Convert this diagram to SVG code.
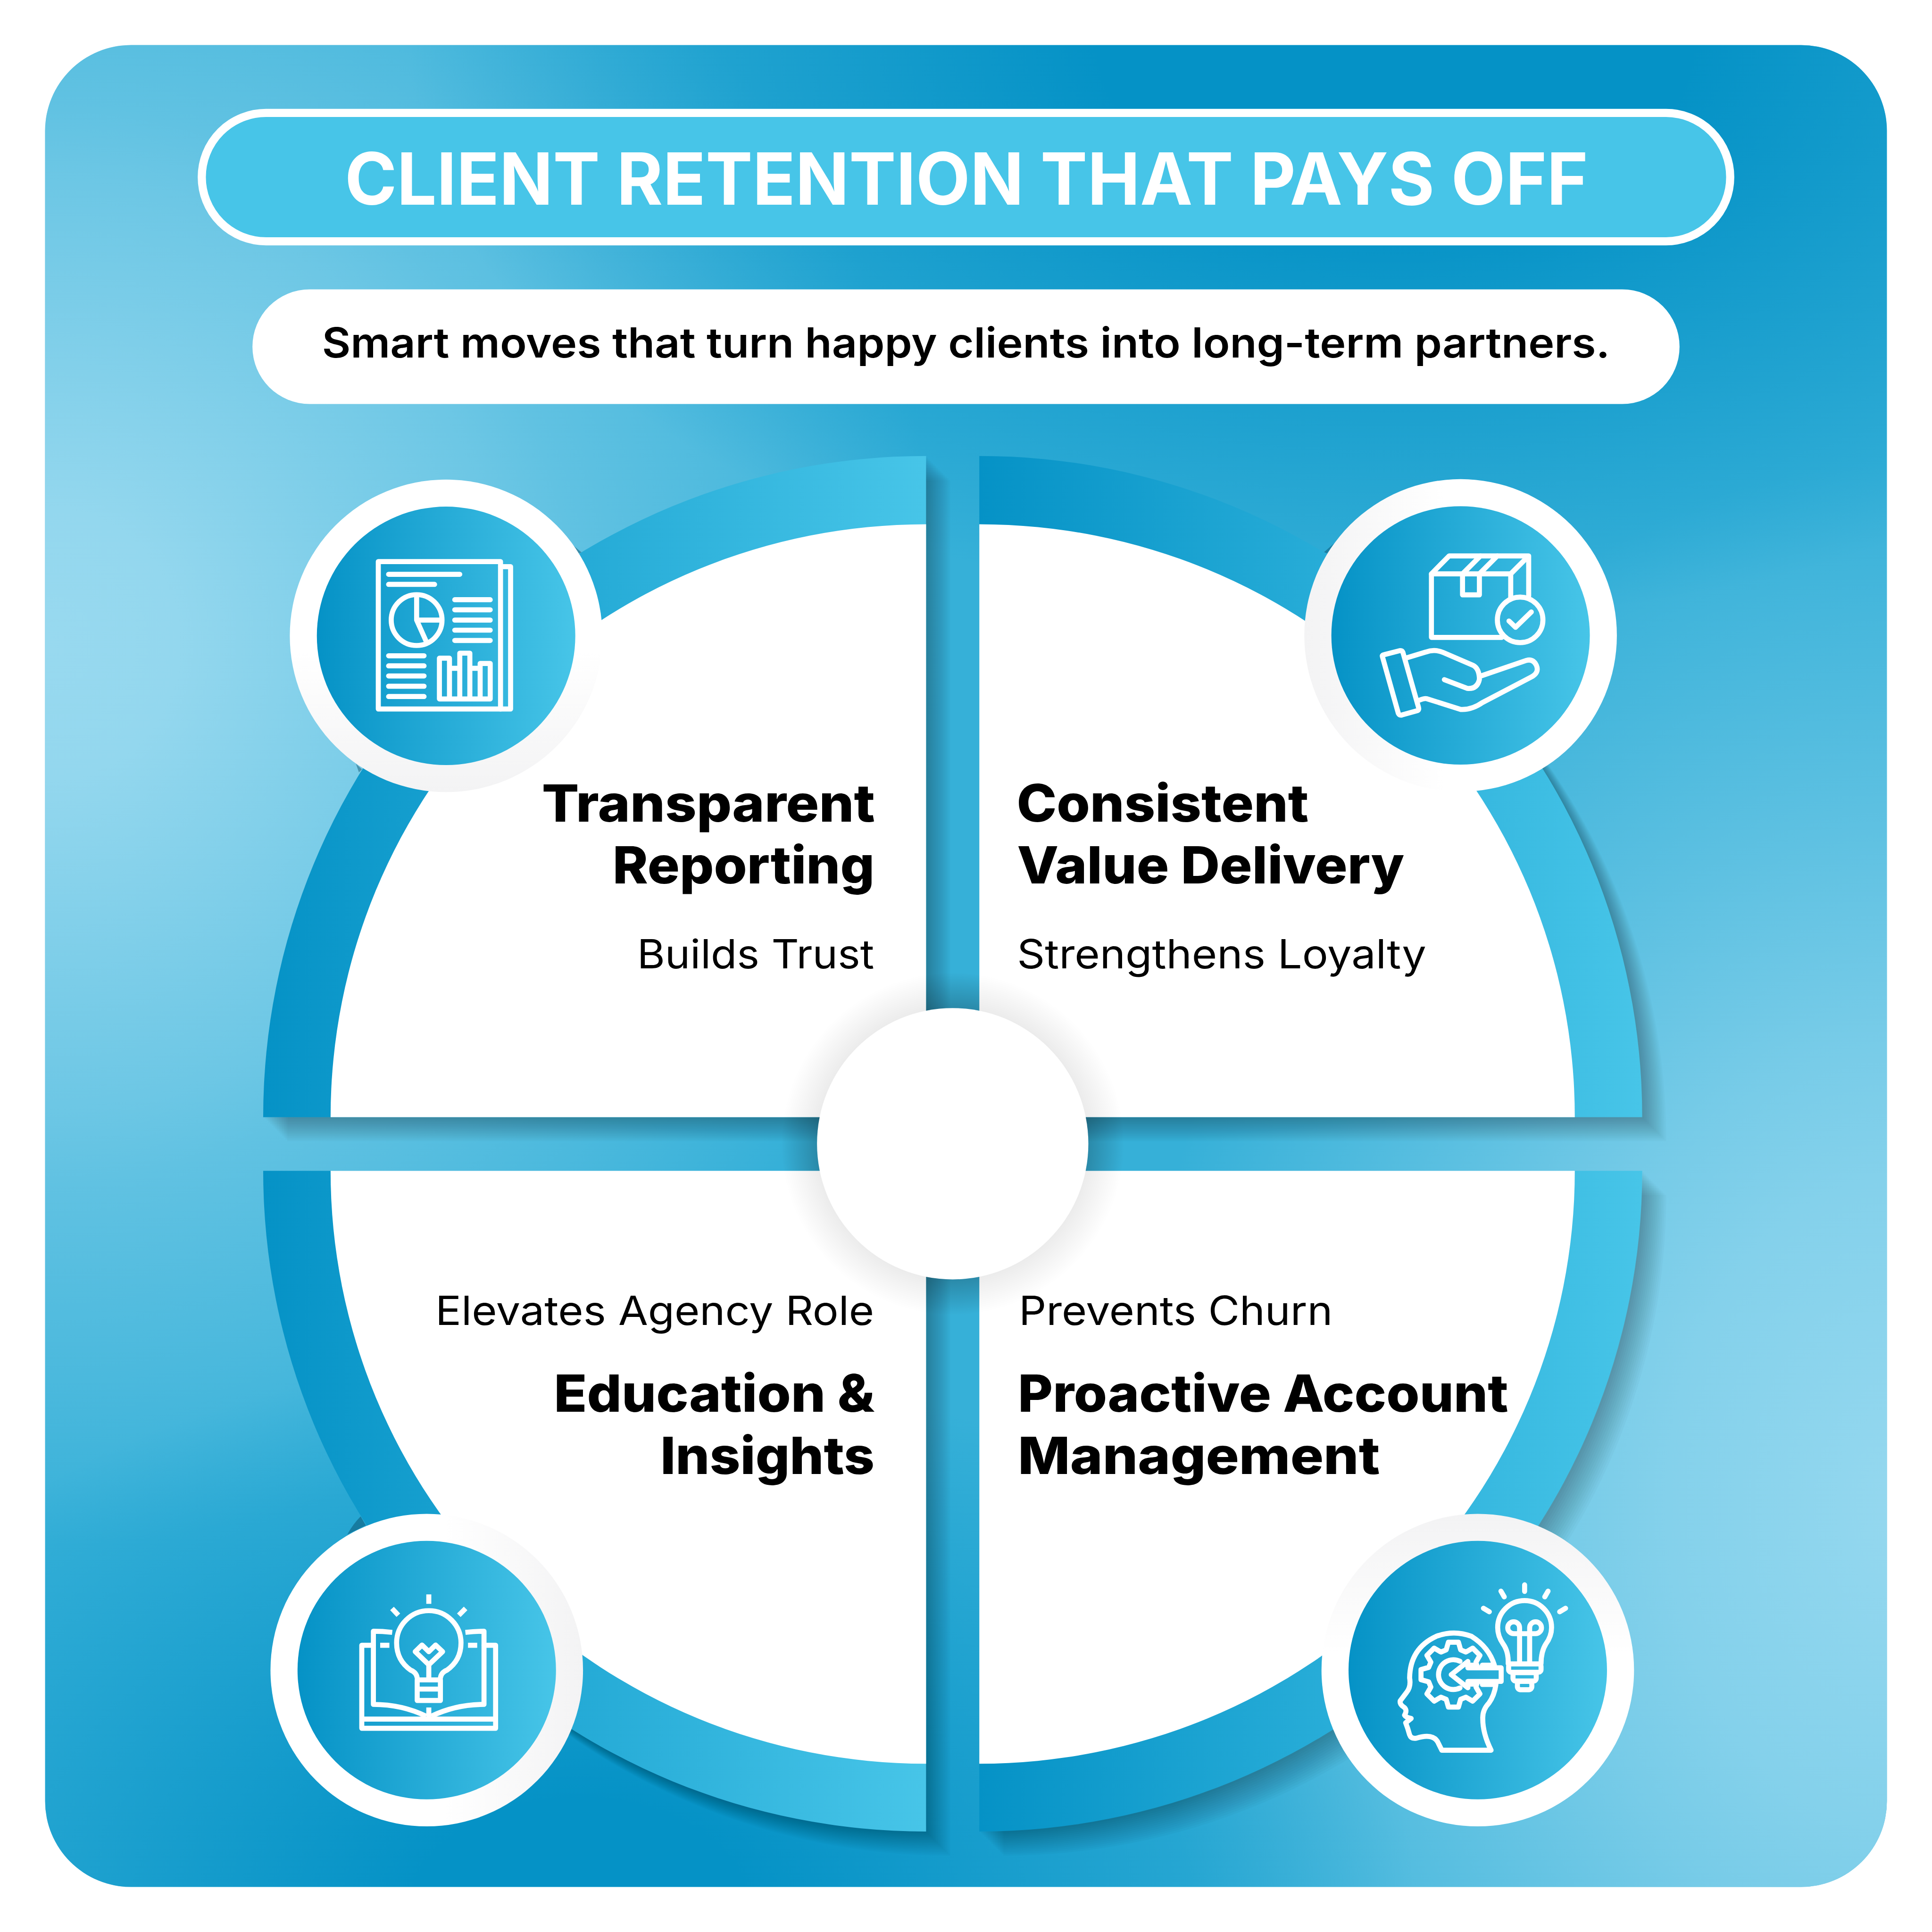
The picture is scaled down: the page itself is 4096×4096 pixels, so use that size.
<svg xmlns="http://www.w3.org/2000/svg" width="4096" height="4096" viewBox="0 0 4096 4096">
<style>
.ic{fill:none;stroke:#fff;stroke-width:23;stroke-linecap:round;stroke-linejoin:round}
.bt{stroke-linecap:butt}
.h{font-family:Inter,"Liberation Sans",sans-serif;font-weight:800;font-size:120px;fill:#000}
.s{font-family:Inter,"Liberation Sans",sans-serif;font-weight:400;font-size:93px;fill:#000}
</style>
<defs>
<linearGradient id="gH" x1="0" y1="0" x2="1" y2="0"><stop offset="0" stop-color="#0592c6"/><stop offset="1" stop-color="#47c5e8"/></linearGradient>
<linearGradient id="wB" x1="0" y1="0" x2="0" y2="1"><stop offset=".55" stop-color="#fff"/><stop offset="1" stop-color="#f3f3f4"/></linearGradient>
<linearGradient id="wT" x1="0" y1="1" x2="0" y2="0"><stop offset=".55" stop-color="#fff"/><stop offset="1" stop-color="#f3f3f4"/></linearGradient>
<linearGradient id="wL" x1="1" y1="0" x2="0" y2="0"><stop offset=".55" stop-color="#fff"/><stop offset="1" stop-color="#f3f3f4"/></linearGradient>
<linearGradient id="wR" x1="0" y1="0" x2="1" y2="0"><stop offset=".55" stop-color="#fff"/><stop offset="1" stop-color="#f3f3f4"/></linearGradient>
<radialGradient id="L1" gradientUnits="userSpaceOnUse" cx="100" cy="1500" r="2100"><stop offset="0" stop-color="#98d9ef"/><stop offset=".15" stop-color="#98d9ef" stop-opacity=".95"/><stop offset=".52" stop-color="#98d9ef" stop-opacity=".55"/><stop offset=".6" stop-color="#98d9ef" stop-opacity=".43"/><stop offset=".83" stop-color="#98d9ef" stop-opacity=".2"/><stop offset="1" stop-color="#98d9ef" stop-opacity="0"/></radialGradient>
<radialGradient id="L2" gradientUnits="userSpaceOnUse" cx="0" cy="0" r="1" gradientTransform="translate(4450 3500) scale(1900 2550)"><stop offset="0" stop-color="#95d8ef"/><stop offset=".3" stop-color="#95d8ef" stop-opacity=".82"/><stop offset=".43" stop-color="#95d8ef" stop-opacity=".68"/><stop offset=".62" stop-color="#95d8ef" stop-opacity=".42"/><stop offset=".95" stop-color="#95d8ef" stop-opacity="0"/></radialGradient>
<radialGradient id="D1" gradientUnits="userSpaceOnUse" cx="0" cy="0" r="1" gradientTransform="translate(3250 100) scale(2300 1350)"><stop offset=".3" stop-color="#0592c6"/><stop offset="1" stop-color="#0592c6" stop-opacity="0"/></radialGradient>
<radialGradient id="D2" gradientUnits="userSpaceOnUse" cx="0" cy="0" r="1" gradientTransform="translate(1350 4450) scale(1950 1300)"><stop offset=".2" stop-color="#0592c6"/><stop offset="1" stop-color="#0592c6" stop-opacity="0"/></radialGradient>
<radialGradient id="cS" gradientUnits="userSpaceOnUse" cx="2219" cy="2664" r="400"><stop offset=".78" stop-color="#000" stop-opacity=".08"/><stop offset="1" stop-color="#000" stop-opacity="0"/></radialGradient>
<radialGradient id="cS2" gradientUnits="userSpaceOnUse" cx="2219" cy="2664" r="400"><stop offset=".78" stop-color="#000" stop-opacity=".16"/><stop offset="1" stop-color="#000" stop-opacity="0"/></radialGradient>
<clipPath id="cross"><rect x="2157" y="2200" width="124" height="928"/><rect x="1755" y="2602" width="928" height="125"/></clipPath>
<clipPath id="panel"><rect x="105" y="105" width="4290" height="4290" rx="200"/></clipPath>
<g id="qAll">
<path d="M2157,2602H613A1544,1540 0 0 1 2157,1062Z"/>
<path d="M2281,2602H3825A1544,1540 0 0 0 2281,1062Z"/>
<path d="M2157,2727H613A1544,1539 0 0 0 2157,4266Z"/>
<path d="M2281,2727H3825A1544,1539 0 0 1 2281,4266Z"/>
</g>
</defs>
<rect width="4096" height="4096" fill="#fff"/>
<g transform="scale(.910222)">
<g id="background">
<rect x="105" y="105" width="4290" height="4290" rx="200" fill="#36b0d8"/>
<g clip-path="url(#panel)">
<rect x="105" y="105" width="4290" height="4290" fill="url(#L1)"/>
<rect x="105" y="105" width="4290" height="4290" fill="url(#L2)"/>
<rect x="105" y="105" width="4290" height="4290" fill="url(#D1)"/>
<rect x="105" y="105" width="4290" height="4290" fill="url(#D2)"/>
</g>
</g>
<g id="title">
<rect x="470" y="263" width="3560" height="299" rx="149.5" fill="#47c5e8" stroke="#fff" stroke-width="19"/>
<text x="803" y="477" font-family="Inter,'Liberation Sans',sans-serif" font-weight="700" font-size="168" fill="#fff" textLength="2896" lengthAdjust="spacingAndGlyphs">CLIENT RETENTION THAT PAYS OFF</text>
</g>
<g id="subtitle">
<rect x="588" y="674" width="3324" height="267" rx="133.5" fill="#fff"/>
<text x="750" y="833" font-family="Inter,'Liberation Sans',sans-serif" font-weight="600" font-size="96" fill="#000" textLength="3000" lengthAdjust="spacingAndGlyphs">Smart moves that turn happy clients into long-term partners.</text>
</g>
<g id="shadows" fill="#000" fill-opacity=".018">
<use href="#qAll" transform="translate(4 4)"/><use href="#qAll" transform="translate(8 8)"/><use href="#qAll" transform="translate(12 12)"/><use href="#qAll" transform="translate(16 16)"/><use href="#qAll" transform="translate(20 20)"/><use href="#qAll" transform="translate(24 24)"/><use href="#qAll" transform="translate(28 28)"/><use href="#qAll" transform="translate(32 32)"/><use href="#qAll" transform="translate(36 36)"/><use href="#qAll" transform="translate(40 40)"/><use href="#qAll" transform="translate(44 44)"/><use href="#qAll" transform="translate(48 48)"/><use href="#qAll" transform="translate(52 52)"/><use href="#qAll" transform="translate(56 56)"/>
</g>
<g id="wedges" fill="#003c55" fill-opacity=".4">
<path d="M1336,1271L1355,1287L1348,1289Z"/>
<path d="M3084,1286L3107,1266L3091,1289Z"/>
<path d="M840,3532L852,3553L809,3574Q822,3550 840,3532Z"/>
<path d="M829,1779L843,1792L836,1799Z"/>
</g>

<g id="node-transparent-reporting">
<path d="M2157,2602H613A1544,1540 0 0 1 2157,1062Z" fill="url(#gH)"/>
<path d="M2157,2602H770A1387,1381 0 0 1 2157,1221Z" fill="#fff"/>
<circle cx="1039" cy="1481" r="364" fill="url(#wB)"/>
<circle cx="1039" cy="1481" r="301" fill="url(#gH)"/>
<g class="ic" transform="translate(650 1080) scale(.5102)">
<rect x="453" y="447" width="558" height="673"/>
<path d="M1011,470H1057V1120H1011"/>
<path d="M500,505H825M500,551H710M802,621H964M802,667H964M802,714H964M802,760H964M802,807H964M500,877H662M500,923H662M500,969H662M500,1016H662M500,1063H662"/>
<circle cx="628" cy="714" r="116"/>
<path d="M628,605V714L672,812M628,714H742"/>
<path d="M732,1074V888H778V934H825V865H871V934H918V912H964V1074ZM778,888V1074M825,934V1074M871,934V1074M918,934V1074"/>
</g>
<text class="h" x="1262" y="1914" textLength="776" lengthAdjust="spacingAndGlyphs">Transparent</text>
<text class="h" x="1427" y="2058" textLength="610" lengthAdjust="spacingAndGlyphs">Reporting</text>
<text class="s" x="1484" y="2255" textLength="552" lengthAdjust="spacingAndGlyphs">Builds Trust</text>
</g>

<g id="node-consistent-value-delivery">
<path d="M2281,2602H3825A1544,1540 0 0 0 2281,1062Z" fill="url(#gH)"/>
<path d="M2281,2602H3668A1387,1381 0 0 0 2281,1221Z" fill="#fff"/>
<circle cx="3402" cy="1480" r="364" fill="url(#wL)"/>
<circle cx="3402" cy="1480" r="301" fill="url(#gH)"/>
<g class="ic" transform="translate(3030 1080) scale(.5102)">
<path d="M917,793H596V503H958V610"/>
<path d="M596,503L677,421H1040L958,503M1040,421V605"/>
<path d="M738,503V599H815V503M738,503L820,421M815,503L897,421"/>
<circle cx="1001" cy="713" r="104"/>
<path d="M950,718L980,747L1052,677"/>
<path d="M372,880Q370,874 380,872L450,854Q462,852 466,862L537,1112Q541,1125 530,1128L462,1147Q450,1150 445,1140Z"/>
<path d="M478,888L570,860Q610,845 650,862L785,920Q815,935 815,985Q805,1030 760,1026L655,986"/>
<path d="M825,968L1030,898Q1060,890 1075,920Q1090,955 1050,975L830,1090Q780,1125 730,1122L575,1073Q565,1070 540,1080"/>
</g>
<text class="h" x="2368" y="1914" textLength="680" lengthAdjust="spacingAndGlyphs">Consistent</text>
<text class="h" x="2369" y="2058" textLength="902" lengthAdjust="spacingAndGlyphs">Value Delivery</text>
<text class="s" x="2369" y="2255" textLength="953" lengthAdjust="spacingAndGlyphs">Strengthens Loyalty</text>
</g>

<g id="node-education-insights">
<path d="M2157,2727H613A1544,1539 0 0 0 2157,4266Z" fill="url(#gH)"/>
<path d="M2157,2727H770A1387,1381 0 0 0 2157,4108Z" fill="#fff"/>
<circle cx="994" cy="3890" r="364" fill="url(#wR)"/>
<circle cx="994" cy="3890" r="301" fill="url(#gH)"/>
<g class="ic" transform="translate(610 3500) scale(.5102)">
<path class="bt" d="M762,419V462M594,483L623,514M930,483L899,514M540,651H582M941,651H983"/>
<path d="M709,800Q705,775 680,765Q615,720 615,640A147,147 0 0 1 909,640Q909,720 844,765Q819,775 815,800"/>
<path d="M709,809H815V903H709ZM709,851H815"/>
<path d="M762,798V740L700,680L731,650L762,680L793,650L825,680L762,740"/>
<path class="bt" d="M595,592Q550,587 509,587V921Q640,921 750,975"/>
<path class="bt" d="M929,592Q975,587 1014,587V921Q885,921 773,975"/>
<path d="M509,651H456V1030H1067V651H1014M456,988H1067"/>
<path class="bt" d="M762,935V985"/>
</g>
<text class="h" x="1290" y="3288" textLength="747" lengthAdjust="spacingAndGlyphs">Education &amp;</text>
<text class="h" x="1538" y="3433" textLength="499" lengthAdjust="spacingAndGlyphs">Insights</text>
<text class="s" x="1014" y="3086" textLength="1022" lengthAdjust="spacingAndGlyphs">Elevates Agency Role</text>
</g>

<g id="node-proactive-account-management">
<path d="M2281,2727H3825A1544,1539 0 0 1 2281,4266Z" fill="url(#gH)"/>
<path d="M2281,2727H3668A1387,1381 0 0 1 2281,4108Z" fill="#fff"/>
<circle cx="3442" cy="3890" r="364" fill="url(#wT)"/>
<circle cx="3442" cy="3890" r="301" fill="url(#gH)"/>
<g class="ic" transform="translate(3070 3500) scale(.5102)">
<path d="M943,375V405M835,404L850,430M1050,404L1035,430M755,482L782,498M1130,482L1103,498"/>
<path d="M868,735Q870,680 845,645Q820,610 820,570A123,123 0 0 1 1066,570Q1066,610 1040,645Q1018,680 1018,735"/>
<rect x="870" y="736" width="148" height="38" rx="12"/>
<rect x="890" y="776" width="106" height="38" rx="12"/>
<rect x="910" y="816" width="66" height="38" rx="14"/>
<path d="M920,598H893A27,27 0 1 1 920,571V598M966,598H993A27,27 0 1 0 966,571V598M920,598H966M920,598V732M966,598V732"/>
<path d="M805,742Q780,660 700,610Q620,580 540,610Q420,665 418,800Q425,840 405,865L375,905Q372,920 390,932Q410,945 395,970Q400,980 425,985L400,1005Q410,1030 418,1060Q425,1080 450,1075Q530,1050 550,1100L565,1130H790Q750,1050 752,980Q752,945 780,915Q805,880 812,830"/>
<path d="M725,745L721,728L739,697L706,664L675,682L651,672L641,637H595L585,672L561,682L530,664L497,697L515,728L505,752L470,762V808L505,818L515,842L497,873L530,906L561,888L585,898L595,933H641L651,898L675,888L706,906L739,873L721,842L725,825"/>
<path d="M648,724A68,68 0 1 0 648,846"/>
<path d="M836,754H684V725L608,785L684,845V816H836Z"/>
<path d="M684,742H725M750,742H800M725,828H684M750,830H805"/>
</g>
<text class="s" x="2373" y="3086" textLength="731" lengthAdjust="spacingAndGlyphs">Prevents Churn</text>
<text class="h" x="2371" y="3288" textLength="1142" lengthAdjust="spacingAndGlyphs">Proactive Account</text>
<text class="h" x="2371" y="3433" textLength="843" lengthAdjust="spacingAndGlyphs">Management</text>
</g>

<g id="node-center">
<circle cx="2219" cy="2664" r="400" fill="url(#cS)"/>
<circle cx="2219" cy="2664" r="400" fill="url(#cS2)" clip-path="url(#cross)"/>
<circle cx="2219" cy="2664" r="316" fill="#fff"/>
</g>
</g>
</svg>
